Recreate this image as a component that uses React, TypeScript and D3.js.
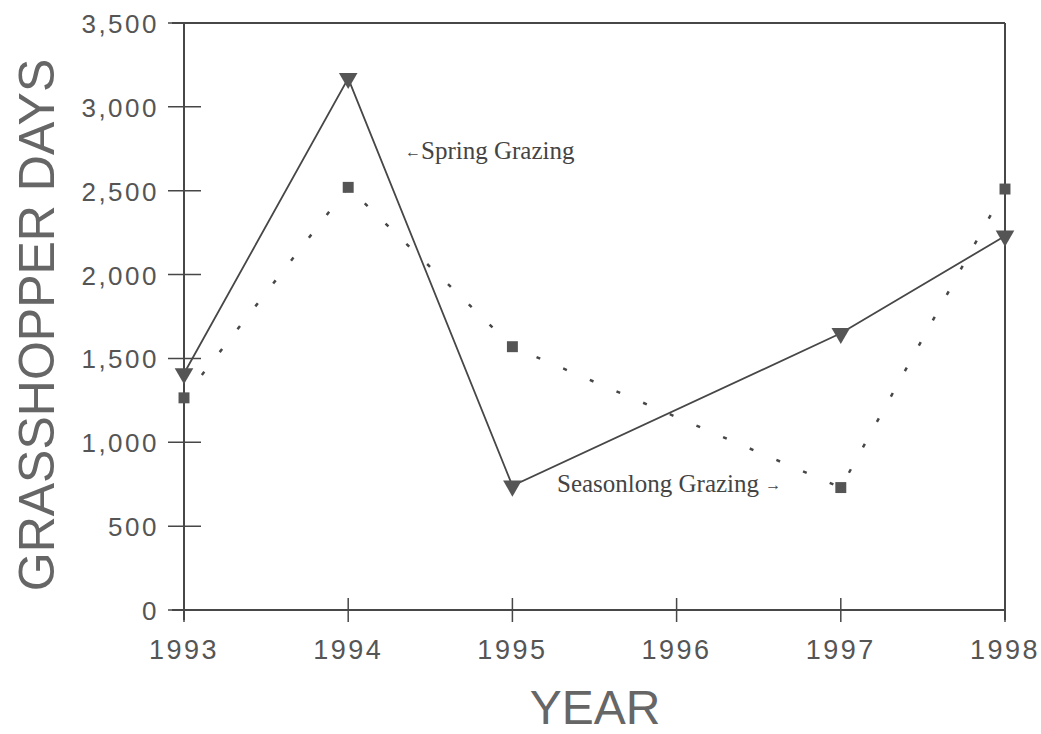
import React, { useEffect, useRef } from 'react';
import * as d3 from 'd3';

// values
const years = [1993, 1994, 1995, 1996, 1997, 1998];
const sampleYears = [1993, 1994, 1995, 1997, 1998];
const springGrazing = [1410, 3170, 740, 1650, 2230];
const seasonlongGrazing = [1265, 2520, 1570, 730, 2510];
const yTicks = [0, 500, 1000, 1500, 2000, 2500, 3000, 3500];

const W = 1041;
const H = 734;

const App = () => {
  const ref = useRef<SVGSVGElement>(null);

  useEffect(() => {
    const svg = d3.select(ref.current);
    svg.selectAll('*').remove();

    const ink = '#474747';
    const textGray = '#555';

    const x = d3.scaleLinear().domain([1993, 1998]).range([184, 1005]);
    const y = d3.scaleLinear().domain([0, 3500]).range([610, 23]);

    const g = svg.append('g');

    // frame: left axis, bottom axis, top and right border
    g.append('line')
      .attr('x1', x(1993)).attr('x2', x(1993))
      .attr('y1', y(3500)).attr('y2', y(0) + 10)
      .attr('stroke', ink).attr('stroke-width', 2);
    g.append('line')
      .attr('x1', x(1993) - 12).attr('x2', x(1998))
      .attr('y1', y(0)).attr('y2', y(0))
      .attr('stroke', ink).attr('stroke-width', 2);
    g.append('line')
      .attr('x1', x(1993) - 12).attr('x2', x(1998))
      .attr('y1', y(3500)).attr('y2', y(3500))
      .attr('stroke', ink).attr('stroke-width', 2);
    g.append('line')
      .attr('x1', x(1998)).attr('x2', x(1998))
      .attr('y1', y(3500)).attr('y2', y(0) + 10)
      .attr('stroke', ink).attr('stroke-width', 2);

    // y ticks cross the axis
    g.selectAll('.ytick')
      .data(yTicks)
      .enter()
      .append('line')
      .attr('x1', x(1993) - 16).attr('x2', x(1993) + 17)
      .attr('y1', d => y(d)).attr('y2', d => y(d))
      .attr('stroke', ink).attr('stroke-width', 1.5);

    g.selectAll('.ylab')
      .data(yTicks)
      .enter()
      .append('text')
      .attr('x', 159)
      .attr('y', d => y(d) + 10)
      .attr('text-anchor', 'end')
      .attr('font-family', '"Liberation Sans", Arial, sans-serif')
      .attr('font-size', 26)
      .attr('letter-spacing', 2.5)
      .attr('fill', textGray)
      .text(d => d3.format(',')(d));

    // x ticks
    g.selectAll('.xtick')
      .data(years)
      .enter()
      .append('line')
      .attr('x1', d => x(d)).attr('x2', d => x(d))
      .attr('y1', y(0) - 12).attr('y2', y(0) + 12)
      .attr('stroke', ink).attr('stroke-width', 1.5);

    g.selectAll('.xlab')
      .data(years)
      .enter()
      .append('text')
      .attr('x', d => x(d))
      .attr('y', 659)
      .attr('text-anchor', 'middle')
      .attr('font-family', '"Liberation Sans", Arial, sans-serif')
      .attr('font-size', 27)
      .attr('letter-spacing', 2.5)
      .attr('fill', textGray)
      .text(d => d);

    // axis titles
    g.append('text')
      .attr('transform', 'translate(54, 325) rotate(-90)')
      .attr('text-anchor', 'middle')
      .attr('font-family', '"Liberation Sans", Arial, sans-serif')
      .attr('font-size', 50)
      .attr('fill', '#666')
      .text('GRASSHOPPER DAYS');

    g.append('text')
      .attr('x', 595)
      .attr('y', 724)
      .attr('text-anchor', 'middle')
      .attr('font-family', '"Liberation Sans", Arial, sans-serif')
      .attr('font-size', 48)
      .attr('fill', '#666')
      .text('YEAR');

    // series lines
    const line = d3.line<number>()
      .x((_, i) => x(sampleYears[i]))
      .y(d => y(d));

    g.append('path')
      .datum(seasonlongGrazing)
      .attr('d', line)
      .attr('fill', 'none')
      .attr('stroke', ink)
      .attr('stroke-width', 2.5)
      .attr('stroke-dasharray', '4,25');

    g.append('path')
      .datum(springGrazing)
      .attr('d', line)
      .attr('fill', 'none')
      .attr('stroke', ink)
      .attr('stroke-width', 1.8);

    // markers
    g.selectAll('.sq')
      .data(seasonlongGrazing)
      .enter()
      .append('path')
      .attr('d', d3.symbol().type(d3.symbolSquare).size(120)())
      .attr('transform', (d, i) => `translate(${x(sampleYears[i])},${y(d)})`)
      .attr('fill', '#555');

    g.selectAll('.tri')
      .data(springGrazing)
      .enter()
      .append('path')
      .attr('d', d3.symbol().type(d3.symbolTriangle).size(150)())
      .attr('transform', (d, i) => `translate(${x(sampleYears[i])},${y(d)}) rotate(180)`)
      .attr('fill', '#555');

    // annotations
    const spring = g.append('text')
      .attr('x', 405)
      .attr('y', 159)
      .attr('font-family', '"Liberation Serif", "Times New Roman", serif')
      .attr('font-size', 25)
      .attr('fill', '#444');
    spring.append('tspan').attr('font-size', 16).attr('dy', -2).text('←');
    spring.append('tspan').attr('dy', 2).text('Spring Grazing');

    const season = g.append('text')
      .attr('x', 557)
      .attr('y', 492)
      .attr('font-family', '"Liberation Serif", "Times New Roman", serif')
      .attr('font-size', 25)
      .attr('fill', '#444');
    season.append('tspan').text('Seasonlong Grazing ');
    season.append('tspan').attr('font-size', 16).attr('dy', -2).text('→');
  }, []);

  return (
    <svg
      ref={ref}
      width={W}
      height={H}
      style={{ position: 'absolute', left: 0, top: 0, background: '#fff' }}
    />
  );
};

export default App;
